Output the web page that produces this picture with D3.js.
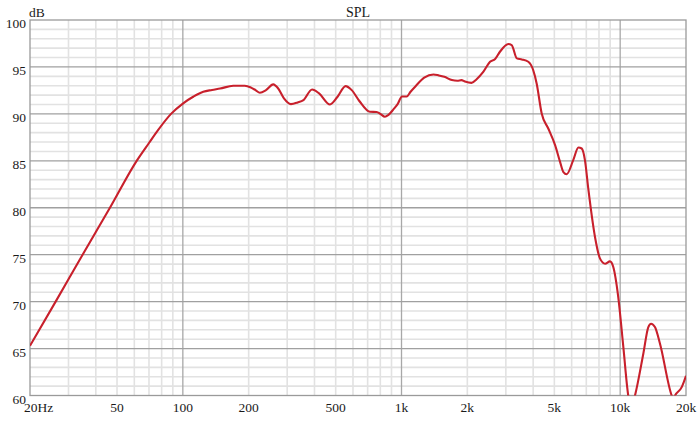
<!DOCTYPE html>
<html><head><meta charset="utf-8">
<script src="https://cdn.jsdelivr.net/npm/d3@7"></script>
<style>html,body{margin:0;padding:0;background:#fff;}svg{display:block;}</style>
</head><body>
<svg id="chart" width="700" height="422"></svg>
<script>
const title = "SPL";
const yUnit = "dB";
const freqs = [20, 26.2, 34.8, 46.4, 61.5, 70, 77, 88.3, 100, 112, 124, 136, 148, 170, 192, 205, 215, 225, 240, 259, 273, 290, 312, 335, 356, 390, 420, 471, 510, 555, 592, 640, 717, 770, 800, 840, 870, 920, 960, 1005, 1056, 1100, 1160, 1270, 1400, 1480, 1570, 1700, 1800, 1880, 1950, 2090, 2200, 2370, 2540, 2680, 2820, 3080, 3190, 3370, 3550, 3800, 4000, 4150, 4376, 4690, 5040, 5310, 5500, 5690, 6100, 6440, 6670, 6900, 7150, 7670, 8090, 8530, 8980, 9300, 9800, 10340, 10890, 11300, 11690, 12760, 13450, 13840, 14420, 15210, 17200, 17500, 17820, 19120, 20000];
const spl = [65.3, 70, 75, 80, 85, 86.9, 88.27, 90, 91.1, 91.85, 92.36, 92.55, 92.7, 92.99, 93.0, 92.8, 92.53, 92.25, 92.53, 93.14, 92.7, 91.65, 91.04, 91.22, 91.47, 92.6, 92.18, 91.0, 91.82, 92.96, 92.53, 91.4, 90.22, 90.2, 90.0, 89.69, 89.87, 90.5, 91.04, 91.85, 91.85, 92.36, 92.95, 93.85, 94.2, 94.1, 93.95, 93.6, 93.53, 93.6, 93.45, 93.3, 93.67, 94.5, 95.55, 95.85, 96.62, 97.44, 97.33, 95.91, 95.8, 95.55, 94.67, 93.24, 90.04, 88.44, 86.67, 84.89, 83.8, 83.57, 85.07, 86.42, 86.31, 85.07, 82.0, 76.89, 74.58, 74.04, 74.29, 73.69, 70.49, 65.16, 60, 58.8, 60, 64.45, 67.29, 67.64, 67.29, 65.51, 60, 59.6, 60, 60.89, 62.1];
const xTickValues = [20, 50, 100, 200, 500, 1000, 2000, 5000, 10000, 20000];
const xTickLabels = ["20Hz", "50", "100", "200", "500", "1k", "2k", "5k", "10k", "20k"];
const yTickValues = [60, 65, 70, 75, 80, 85, 90, 95, 100];

const svg = d3.select("#chart");
const L = 30, R = 686, T = 20, B = 395.5;
const x = d3.scaleLog().domain([20, 20000]).range([L, R]);
const y = d3.scaleLinear().domain([60, 100]).range([B, T]);
const font = "'Liberation Serif', 'DejaVu Serif', serif";

const minorX = [];
for (let dec = 10; dec <= 10000; dec *= 10) for (let m = 2; m <= 9; m++) { const v = dec * m; if (v > 20 && v < 20000 && v !== 100 && v !== 1000 && v !== 10000) minorX.push(v); }
const g = svg.append("g");
g.selectAll("line.mx").data(minorX).enter().append("line")
  .attr("x1", d => x(d)).attr("x2", d => x(d))
  .attr("y1", T).attr("y2", B).attr("stroke", "#e2e2e2").attr("stroke-width", 1.6);
const minorY = d3.range(61, 100).filter(v => v % 5 !== 0);
g.selectAll("line.my").data(minorY).enter().append("line")
  .attr("x1", L).attr("x2", R)
  .attr("y1", d => y(d)).attr("y2", d => y(d)).attr("stroke", "#e2e2e2").attr("stroke-width", 1.6);
g.selectAll("line.Mx").data([100, 1000, 10000]).enter().append("line")
  .attr("x1", d => x(d)).attr("x2", d => x(d)).attr("y1", T).attr("y2", B)
  .attr("stroke", "#a8a8a8").attr("stroke-width", 1.3);
g.selectAll("line.My").data([65, 70, 75, 80, 85, 90, 95]).enter().append("line")
  .attr("x1", L).attr("x2", R).attr("y1", d => y(d)).attr("y2", d => y(d))
  .attr("stroke", "#a0a0a0").attr("stroke-width", 1.3);
svg.append("rect").attr("x", L).attr("y", T).attr("width", R - L).attr("height", B - T)
  .attr("fill", "none").attr("stroke", "#9a9a9a").attr("stroke-width", 1.3);

svg.append("clipPath").attr("id", "clip").append("rect")
  .attr("x", L).attr("y", T).attr("width", R - L).attr("height", B - T);
const pts = freqs.map((f, i) => [f, spl[i]]);
const line = d3.line().x(d => x(d[0])).y(d => y(d[1])).curve(d3.curveMonotoneX);
svg.append("path").datum(pts).attr("clip-path", "url(#clip)")
  .attr("d", line).attr("fill", "none").attr("stroke", "#c8202c").attr("stroke-width", 2.1)
  .attr("stroke-linejoin", "round");

svg.selectAll("text.yt").data(yTickValues).enter().append("text")
  .attr("x", 26).attr("y", d => y(d) + 8).attr("text-anchor", "end")
  .attr("font-family", font).attr("font-size", 13.5).attr("fill", "#1a1a1a").text(d => d);
svg.selectAll("text.xt").data(xTickValues).enter().append("text")
  .attr("x", (d, i) => i === 0 ? x(d) - 6 : x(d)).attr("y", 412)
  .attr("text-anchor", (d, i) => i === 0 ? "start" : "middle")
  .attr("font-family", font).attr("font-size", 13.5).attr("fill", "#1a1a1a")
  .text((d, i) => xTickLabels[i]);
svg.append("text").attr("x", 29).attr("y", 17).attr("font-family", font).attr("font-size", 13.5)
  .attr("fill", "#1a1a1a").text(yUnit);
svg.append("text").attr("x", (L + R) / 2).attr("y", 17).attr("text-anchor", "middle")
  .attr("font-family", font).attr("font-size", 14).attr("fill", "#1a1a1a").text(title);
</script>
</body></html>
